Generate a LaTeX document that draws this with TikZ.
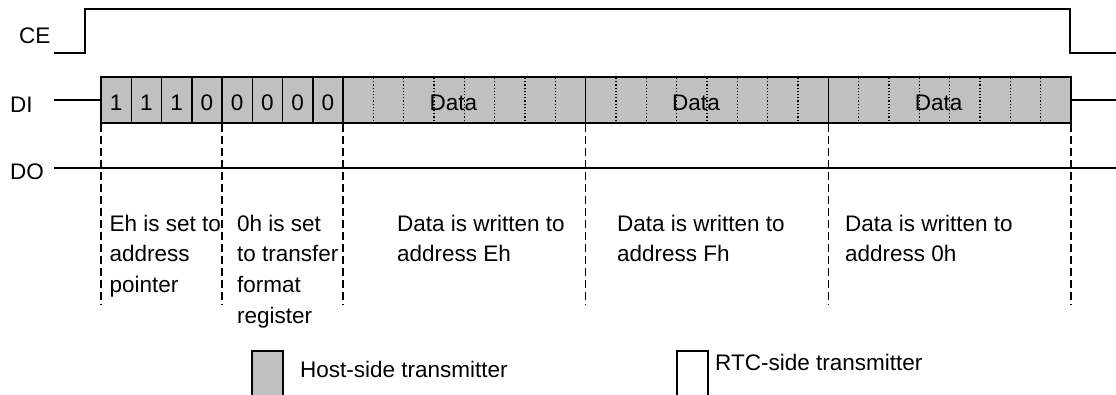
\documentclass[tikz,border=0pt]{standalone}
\usepackage{fontspec}
\setmainfont{Liberation Sans}
\begin{document}
\begin{tikzpicture}[x=1pt,y=-1pt,
  sig/.style={line width=1.5pt,line join=miter},
  cellbox/.style={line width=1.5pt,fill=boxgray},
  dotdiv/.style={line width=1.2pt,dash pattern=on 1.2pt off 2pt},
  dashdiv/.style={line width=1.5pt,dash pattern=on 8pt off 4pt},
  txt/.style={font=\fontsize{22.5}{30.7}\selectfont,inner sep=0pt,text=black},
  lbl/.style={txt,anchor=base west},
  para/.style={txt,anchor=north west,align=left}
]
\definecolor{boxgray}{HTML}{C0C0C0}
\useasboundingbox (0,0) rectangle (1116,394);
% CE
\node[lbl] (ce) at (19,43.5) {CE};
\coordinate (ceA) at (54,53);
\coordinate (ceB) at (1116,53);
\draw[sig] (ceA) -- (85,53) -- (85,9) -- (1070,9) -- (1070,53) -- (ceB);
% DI
\node[lbl] (di) at (10,112) {DI};
\coordinate (diA) at (54,100);
\coordinate (diB) at (1116,100);
\draw[cellbox] (101,77) rectangle (1071,123);
\draw[sig] (diA) -- (101,100);
\draw[sig] (1071,100) -- (diB);
% bit dividers
\foreach \i in {1,...,7} \draw[sig] ({101+30.25*\i},77) -- ({101+30.25*\i},123);
\foreach \i/\b in {0/1,1/1,2/1,3/0,4/0,5/0,6/0,7/0}
  \node[txt,anchor=base] (bit\i) at ({101+30.25*(\i+0.5)},110) {\b};
% data blocks
\foreach \k in {0,1,2}{
  \pgfmathsetmacro{\xs}{343+242.6667*\k}
  \draw[sig] (\xs,77) -- (\xs,123);
  \foreach \j in {1,...,7} \draw[dotdiv] ({\xs+30.3333*\j},78) -- ({\xs+30.3333*\j},122);
  \node[txt,anchor=base] (data\k) at ({\xs+121.33-11},110) {Data};
}
% DO
\node[lbl] (do) at (10,179) {DO};
\coordinate (doA) at (54,168);
\coordinate (doB) at (1116,168);
\draw[sig] (doA) -- (doB);
% dashed guides
\foreach \x in {101,222,343,585.67,828.33,1071}
  \draw[dashdiv] (\x,124) -- (\x,305);
% descriptions
\node[para] (d1) at (109.5,214.7) {Eh is set to\\address\\pointer};
\node[para] (d2) at (237,214.7) {0h is set\\to transfer\\format\\register};
\node[para] (d3) at (397,214.7) {Data is written to\\address Eh};
\node[para] (d4) at (617,214.7) {Data is written to\\address Fh};
\node[para] (d5) at (845,214.7) {Data is written to\\address 0h};
% legend
\fill[boxgray] (252,351) rectangle (283,396);
\draw[sig] (252,396) -- (252,351) -- (283,351) -- (283,396);
\node[lbl] (host) at (300,377) {Host-side transmitter};
\draw[sig] (677,396) -- (677,351) -- (708,351) -- (708,396);
\node[lbl] (rtc) at (715,370) {RTC-side transmitter};
\end{tikzpicture}
\end{document}
